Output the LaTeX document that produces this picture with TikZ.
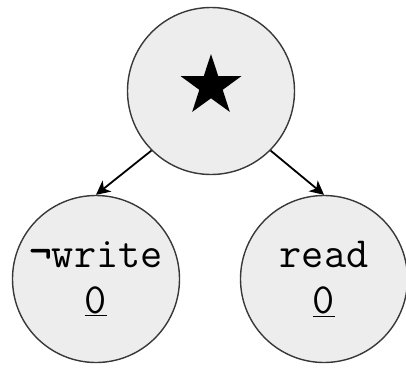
\documentclass[tikz,border=0pt]{standalone}
\usepackage{fontspec}
\usetikzlibrary{arrows.meta,positioning,shapes.geometric}

\begin{document}
\begin{tikzpicture}[
  x=1pt, y=-1pt,
  font=\ttfamily\fontsize{43}{46}\selectfont,
  state/.style={draw=black!78, line width=1.4pt, circle, fill=black!7, minimum size=167pt, inner sep=0pt, align=center},
  flow/.style={-{Stealth[length=14pt, width=14pt, inset=4pt]}, line width=1.8pt}
]
\useasboundingbox (0,0) rectangle (406,367);

% ---- root ----
\node[state] (root) at (211,91) {};
\node[star, star points=5, star point ratio=2.6, fill=black, minimum size=64pt, inner sep=0pt] (rootstar) at (211,86) {};

% ---- children ----
\node[state] (nowrite) at (96,279) {{\fontseries{b}\selectfont\char"AC}write\\\underline{0}};
\node[state] (rd) at (324,279) {read\\\underline{0}};

% edges
\draw[flow] (root.225) -- (nowrite.north);
\draw[flow] (root.-45) -- (rd.north);
\end{tikzpicture}
\end{document}
